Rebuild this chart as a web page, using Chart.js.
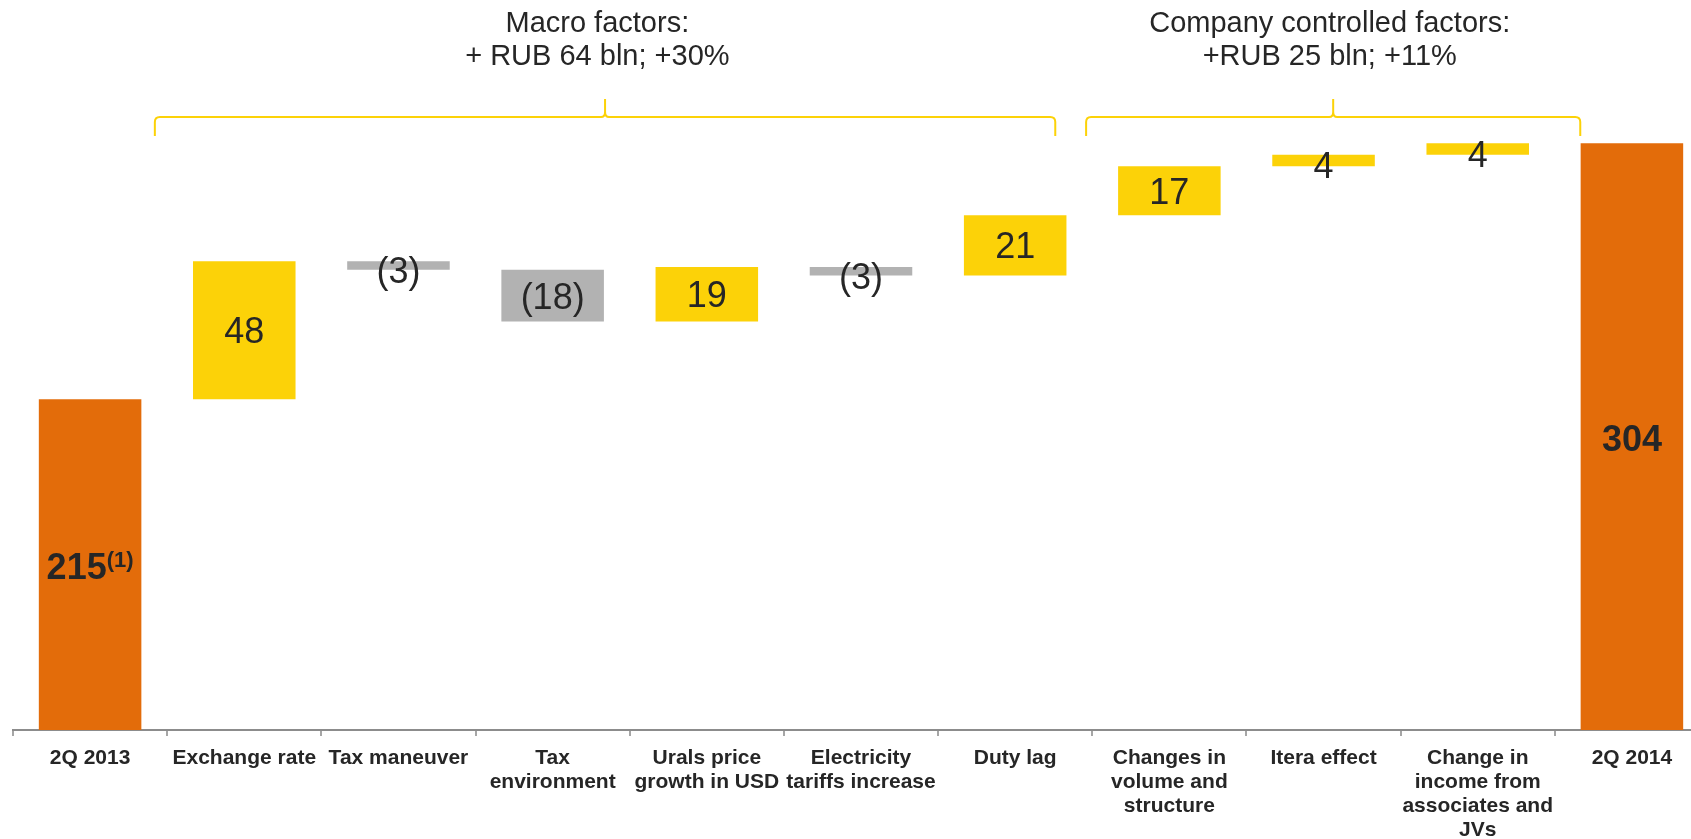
<!DOCTYPE html>
<html><head><meta charset="utf-8">
<script src="https://cdn.jsdelivr.net/npm/chart.js@4/dist/chart.umd.min.js"></script>
<style>
html,body{margin:0;padding:0;overflow:hidden;background:#fff;width:1691px;height:839px;}
#wrap{position:absolute;left:0;top:0;width:1712px;height:839px;}
</style></head><body>
<div id="wrap"><canvas id="c" width="1712" height="839"></canvas></div>
<script>
// ---- data ----
const categories = [
  '2Q 2013',
  'Exchange rate',
  'Tax maneuver',
  ['Tax', 'environment'],
  ['Urals price', 'growth in USD'],
  ['Electricity', 'tariffs increase'],
  'Duty lag',
  ['Changes in', 'volume and', 'structure'],
  'Itera effect',
  ['Change in', 'income from', 'associates and', 'JVs'],
  '2Q 2014'
];
const startTotal = 215;
const endTotal = 304;
const changes = [48, -3, -18, 19, -3, 21, 17, 4, 4];
const valueNotes = ['(1)', '', '', '', '', '', '', '', '', '', ''];
const groupTitles = [
  ['Macro factors:', '+ RUB 64 bln; +30%'],
  ['Company controlled factors:', '+RUB 25 bln; +11%']
];
const groupMembers = [[1, 6], [7, 9]];

// ---- build library data ----
const floating = [[0, startTotal]];
const labelsText = [String(startTotal)];
let run = startTotal;
changes.forEach(d => {
  floating.push([run, run + d]);
  labelsText.push(d < 0 ? '(' + (-d) + ')' : String(d));
  run += d;
});
floating.push([0, endTotal]);
labelsText.push(String(endTotal));

const ORANGE = '#E36C0A', YELLOW = '#FCD208', GRAY = '#B2B2B2';
const colors = floating.map((r, i) => {
  if (i === 0 || i === floating.length - 1) return ORANGE;
  return r[1] >= r[0] ? YELLOW : GRAY;
});

const FONT = '"Liberation Sans", Arial, Helvetica, sans-serif';
const TEXT = '#262626';

const bracePlugin = {
  id: 'braces',
  afterDraw(chart, args, opts) {
    const {ctx} = chart;
    const xs = chart.scales.x;
    ctx.save();
    ctx.strokeStyle = YELLOW;
    ctx.lineWidth = 2;
    opts.braces.forEach((b, gi) => {
      const [a, z] = groupMembers[gi];
      const x1 = xs.getPixelForValue(a + b.left);
      const x2 = xs.getPixelForValue(z + b.right);
      const cx = (x1 + x2) / 2;
      const yh = opts.lineY, yb = opts.endY, yp = opts.peakY, r = 5;
      ctx.beginPath();
      ctx.moveTo(x1, yb);
      ctx.lineTo(x1, yh + r);
      ctx.quadraticCurveTo(x1, yh, x1 + r, yh);
      ctx.lineTo(cx - 4, yh);
      ctx.quadraticCurveTo(cx, yh, cx, yh - 5);
      ctx.lineTo(cx, yp);
      ctx.moveTo(cx, yh - 5);
      ctx.quadraticCurveTo(cx, yh, cx + 4, yh);
      ctx.lineTo(x2 - r, yh);
      ctx.quadraticCurveTo(x2, yh, x2, yh + r);
      ctx.lineTo(x2, yb);
      ctx.stroke();

      // titles
      const tx = xs.getPixelForValue(b.titleAt);
      ctx.fillStyle = TEXT;
      ctx.font = '29px ' + FONT;
      ctx.textAlign = 'center';
      ctx.textBaseline = 'middle';
      groupTitles[gi].forEach((line, li) => {
        ctx.fillText(line, tx, opts.titleY[li]);
      });
    });
    ctx.restore();
  }
};

const labelPlugin = {
  id: 'valueLabels',
  afterDatasetsDraw(chart) {
    const {ctx, chartArea} = chart;
    const meta = chart.getDatasetMeta(0);
    const last = meta.data.length - 1;
    ctx.save();
    ctx.fillStyle = TEXT;
    meta.data.forEach((bar, i) => {
      const p = bar.getProps(['x', 'y', 'base'], true);
      const top = Math.max(Math.min(p.y, p.base), chartArea.top);
      const bottom = Math.min(Math.max(p.y, p.base), chartArea.bottom);
      let cy = (top + bottom) / 2;
      const isTotal = (i === 0 || i === last);
      const txt = labelsText[i];
      const note = valueNotes[i];
      if (isTotal) {
        ctx.font = 'bold 36px ' + FONT;
        const w1 = ctx.measureText(txt).width;
        let w2 = 0;
        if (note) { ctx.font = 'bold 22px ' + FONT; w2 = ctx.measureText(note).width; }
        const x0 = p.x - (w1 + w2) / 2;
        const baseY = cy + 14;
        ctx.textAlign = 'left';
        ctx.textBaseline = 'alphabetic';
        ctx.font = 'bold 36px ' + FONT;
        ctx.fillText(txt, x0, baseY);
        if (note) {
          ctx.font = 'bold 22px ' + FONT;
          ctx.fillText(note, x0 + w1, baseY - 12);
        }
      } else {
        cy += (bottom - top < 15) ? 8 : 3;
        ctx.font = '36px ' + FONT;
        ctx.textAlign = 'center';
        ctx.textBaseline = 'middle';
        ctx.fillText(txt, p.x, cy);
      }
    });
    ctx.restore();
  }
};

new Chart(document.getElementById('c'), {
  type: 'bar',
  data: {
    labels: categories,
    datasets: [{
      data: floating,
      backgroundColor: colors,
      borderWidth: 0,
      barPercentage: 0.665,
      categoryPercentage: 1
    }]
  },
  options: {
    responsive: false,
    animation: false,
    devicePixelRatio: 1,
    layout: {padding: {left: 13, right: 3, top: 11, bottom: 0}},
    plugins: {
      legend: {display: false},
      tooltip: {enabled: false},
      braces: {
        lineY: 117, endY: 136, peakY: 99,
        titleY: [24, 57],
        braces: [
          {left: -0.58, right: 0.26, titleAt: 3.29},
          {left: -0.54, right: 0.665, titleAt: 8.04}
        ]
      }
    },
    scales: {
      x: {
        grid: {display: true, drawOnChartArea: false, drawTicks: true, tickLength: 6, color: '#a6a6a6', lineWidth: 2, offset: true},
        border: {display: true, color: '#8c8c8c', width: 2},
        ticks: {
          color: TEXT, padding: 10, maxRotation: 0, minRotation: 0, autoSkip: false,
          font: {family: FONT, size: 21, weight: 'bold', lineHeight: 1.15}
        },
        afterFit(scale) { scale.height = 109; }
      },
      y: {display: false, min: 100, max: 350}
    }
  },
  plugins: [bracePlugin, labelPlugin]
});
</script>
</body></html>
